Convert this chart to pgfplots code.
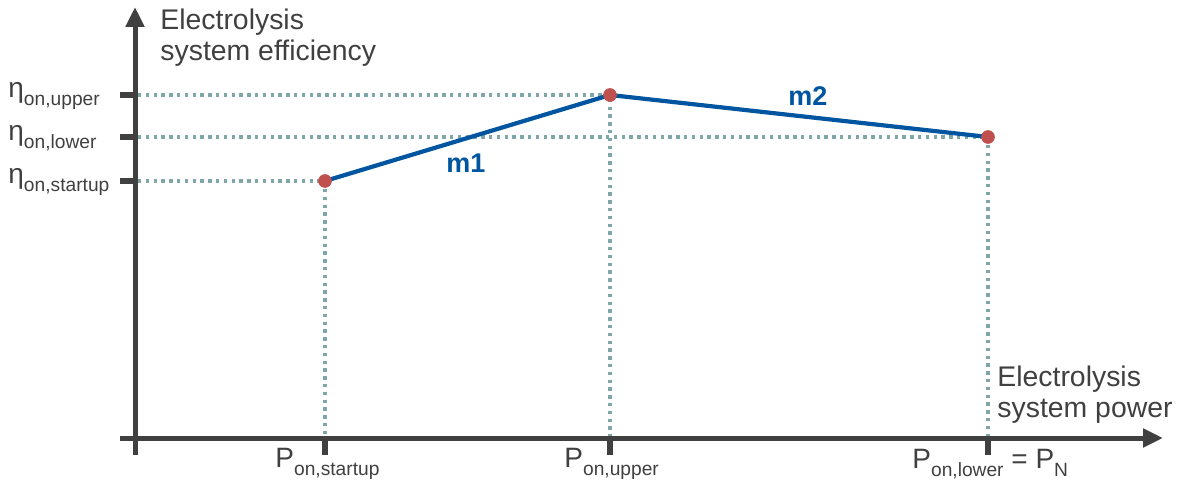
\documentclass[border=0pt]{standalone}
\usepackage{pgfplots}
\pgfplotsset{compat=1.18}
\usepackage{fontspec}
\setmainfont{Liberation Sans}
\usetikzlibrary{arrows.meta}
\definecolor{axc}{HTML}{404040}
\definecolor{blu}{HTML}{0055A0}
\definecolor{mk}{HTML}{C0504D}
\definecolor{dotc}{HTML}{7FA6A9}
\newcommand{\sub}[1]{\raisebox{-0.3em}{\fontsize{9.6}{9.6}\selectfont #1}}
\begin{document}
\begin{tikzpicture}
\begin{axis}[
  scale only axis, width=592pt, height=244pt,
  xmin=0, xmax=1184, ymin=0, ymax=488,
  hide axis, clip=false,
]
% invisible frame for the picture's bounding box
\addplot[draw=none, forget plot] coordinates {(0,0) (1184,0) (1184,488) (0,488)};
% dotted guide lines
\addplot[dotc, line width=1.7pt, dash pattern=on 1.7pt off 2.2pt] coordinates {(138,393) (610,393) (610,52)};
\addplot[dotc, line width=1.7pt, dash pattern=on 1.7pt off 2.2pt] coordinates {(138,351) (988,351) (988,52)};
\addplot[dotc, line width=1.7pt, dash pattern=on 1.7pt off 2.2pt] coordinates {(138,307) (325,307) (325,52)};
% axes
\addplot[axc, line width=2.5pt, -{Triangle[length=10pt,width=9pt]}] coordinates {(120,50) (1163,50)};
\addplot[axc, line width=2.5pt, -{Triangle[length=10pt,width=9pt]}] coordinates {(135,33) (135,481)};
% ticks
\addplot[axc, line width=3pt] coordinates {(120,393) (135,393)};
\addplot[axc, line width=3pt] coordinates {(120,351) (135,351)};
\addplot[axc, line width=3pt] coordinates {(120,307) (135,307)};
\addplot[axc, line width=3pt] coordinates {(325,50) (325,33)};
\addplot[axc, line width=3pt] coordinates {(610,50) (610,33)};
\addplot[axc, line width=3pt] coordinates {(988,50) (988,33)};
% efficiency curve
\addplot[blu, line width=2.1pt] coordinates {(325,307) (610,393) (988,351)};
\addplot[only marks, mark=*, mark size=3.2pt, mk, mark options={draw=mk, fill=mk}] coordinates {(325,307) (610,393) (988,351)};
% labels
\node[anchor=north west, align=left, text=axc, font=\fontsize{14.2}{15.5}\selectfont, inner sep=0pt] at (160,479) {Electrolysis\\system efficiency};
\node[anchor=north west, align=left, text=axc, font=\fontsize{14.2}{15.5}\selectfont, inner sep=0pt] at (997,122) {Electrolysis\\system power};
\node[anchor=west, text=axc, font=\fontsize{14}{15}\selectfont, inner sep=0pt] at (8,392) {η\sub{on,upper}};
\node[anchor=west, text=axc, font=\fontsize{14}{15}\selectfont, inner sep=0pt] at (8,350) {η\sub{on,lower}};
\node[anchor=west, text=axc, font=\fontsize{14}{15}\selectfont, inner sep=0pt] at (8,306) {η\sub{on,startup}};
\node[anchor=west, text=axc, font=\fontsize{14}{15}\selectfont, inner sep=0pt] at (275,24) {P\sub{on,startup}};
\node[anchor=west, text=axc, font=\fontsize{14}{15}\selectfont, inner sep=0pt] at (564,24) {P\sub{on,upper}};
\node[anchor=west, text=axc, font=\fontsize{14}{15}\selectfont, inner sep=0pt] at (912,24) {P\sub{on,lower} = P\sub{N}};
\node[text=blu, font=\fontsize{13.5}{15}\selectfont\bfseries, inner sep=0pt] at (466,325) {m1};
\node[text=blu, font=\fontsize{13.5}{15}\selectfont\bfseries, inner sep=0pt] at (808,392) {m2};
\end{axis}
\end{tikzpicture}
\end{document}
